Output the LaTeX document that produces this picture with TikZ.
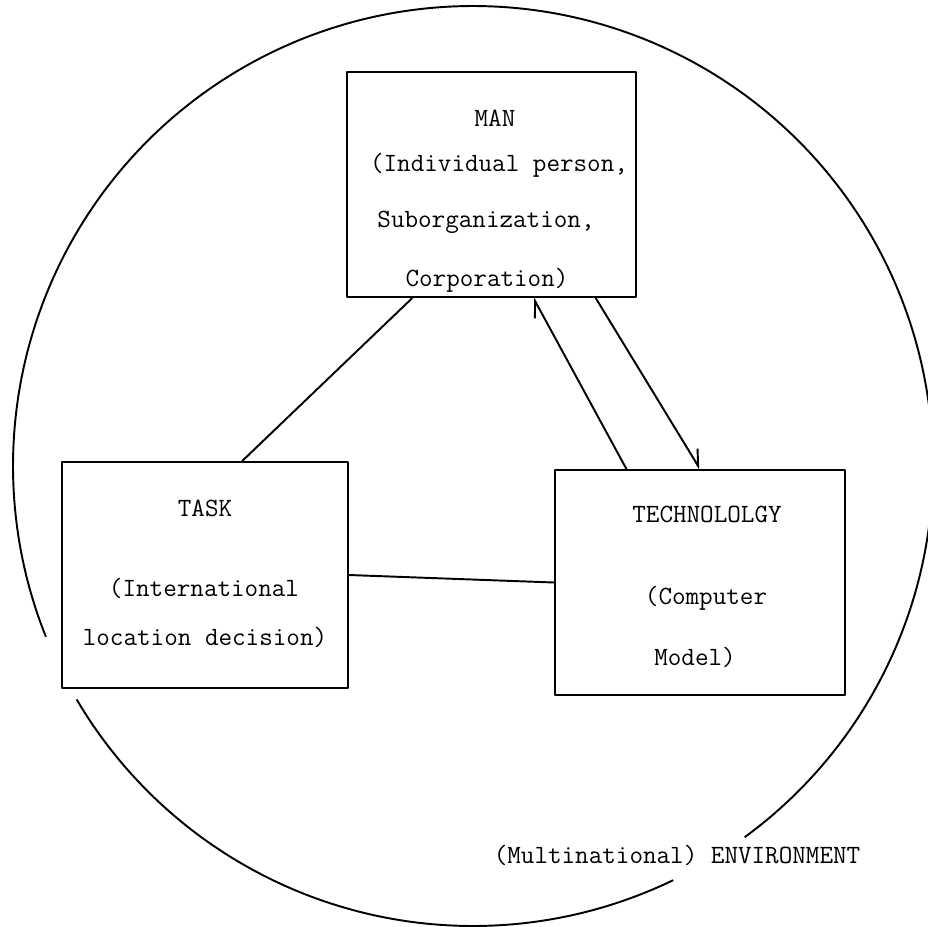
\documentclass[tikz,border=0pt]{standalone}
\usepackage{tikz}
\usetikzlibrary{positioning,arrows.meta,calc}

\begin{document}
\begin{tikzpicture}[x=0.02cm,y=-0.02cm,line width=1.1pt,line join=round,
  font=\ttfamily\fontsize{15}{18}\selectfont,
  box/.style={draw,rectangle,inner sep=0pt,minimum width=5.78cm,minimum height=4.5cm},
  lbl/.style={inner sep=0pt},
  barb/.style={-{Straight Barb[left,length=3mm,width=3.4mm]}}]
  \useasboundingbox (0,0) rectangle (928,926);
  \clip (0,0) rectangle (928,926);
  % environment circle, broken at two places
  \draw plot[domain=158.2:413.8,samples=200,smooth] ({473+460*cos(\x)},{466+460*sin(\x)});
  \draw plot[domain=64.2:149.5,samples=100,smooth] ({473+460*cos(\x)},{466+460*sin(\x)});
  \node[lbl] (env) at (677,855) {(Multinational) ENVIRONMENT};
  % the three boxes
  \node[box] (man) at (491.5,184.5) {};
  \node[box,minimum width=5.72cm,minimum height=4.52cm] (task) at (205,575) {};
  \node[box,minimum width=5.8cm] (tech) at (700,582.5) {};
  \node[lbl] (manT) at (495,118) {MAN};
  \node[lbl] (manA) at (499,165) {(Individual person,};
  \node[lbl] (manB) at (486,222) {Suborganization,};
  \node[lbl] (manC) at (487,280) {Corporation)};
  \node[lbl] (taskT) at (205,508) {TASK};
  \node[lbl] (taskA) at (204,588) {(International};
  \node[lbl] (taskB) at (205,637) {location decision)};
  \node[lbl] (techT) at (707,514) {TECHNOLOLGY};
  \node[lbl] (techA) at (706,598) {(Computer};
  \node[lbl] (techB) at (695,657) {Model)};
  % connectors
  \draw ($(man.south west)!.228!(man.south east)$) -- ($(task.north west)!.629!(task.north east)$);
  \draw (task.east) -- (tech.west);
  \draw[barb] ($(tech.north west)!.248!(tech.north east)$) -- ($(man.south west)!.644!(man.south east)$);
  \draw[barb] ($(man.south west)!.858!(man.south east)$) -- (tech.north);
\end{tikzpicture}
\end{document}
